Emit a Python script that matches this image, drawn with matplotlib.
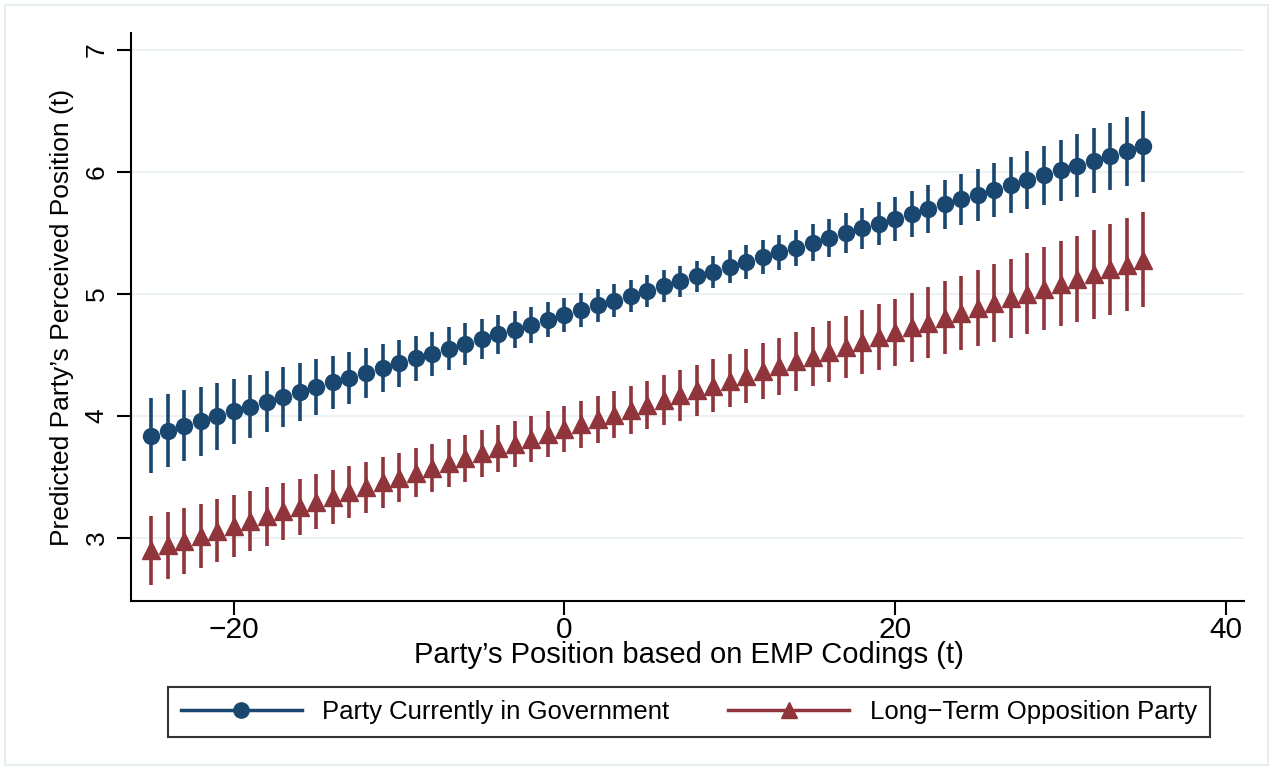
import matplotlib.pyplot as plt
from matplotlib.lines import Line2D
from matplotlib.patches import Rectangle

plt.rcParams['font.family'] = ['Liberation Sans', 'DejaVu Sans']

x = list(range(-25, 36))

gov = [3.840, 3.880, 3.919, 3.959, 3.998, 4.038, 4.077, 4.117, 4.156, 4.196,
       4.235, 4.275, 4.314, 4.354, 4.393, 4.433, 4.472, 4.512, 4.551, 4.591,
       4.630, 4.670, 4.709, 4.749, 4.788, 4.828, 4.867, 4.907, 4.946, 4.986,
       5.025, 5.065, 5.104, 5.144, 5.183, 5.223, 5.262, 5.302, 5.341, 5.381,
       5.420, 5.460, 5.499, 5.539, 5.578, 5.618, 5.657, 5.697, 5.736, 5.776,
       5.815, 5.855, 5.894, 5.934, 5.973, 6.013, 6.052, 6.092, 6.131, 6.171,
       6.210]
gov_ci = [.307, .299, .291, .283, .275, .267, .259, .251, .244, .236,
          .229, .221, .214, .207, .200, .194, .187, .181, .175, .169,
          .163, .158, .153, .148, .144, .141, .138, .135, .133, .131,
          .130, .130, .130, .131, .133, .135, .138, .141, .144, .148,
          .153, .158, .163, .169, .175, .181, .187, .194, .200, .207,
          .214, .221, .229, .236, .244, .251, .259, .267, .275, .283,
          .291]

opp = [2.900, 2.940, 2.979, 3.019, 3.059, 3.099, 3.138, 3.178, 3.218, 3.257,
       3.297, 3.337, 3.376, 3.416, 3.456, 3.496, 3.535, 3.575, 3.615, 3.654,
       3.694, 3.734, 3.773, 3.813, 3.853, 3.893, 3.932, 3.972, 4.012, 4.051,
       4.091, 4.131, 4.170, 4.210, 4.250, 4.290, 4.329, 4.369, 4.409, 4.448,
       4.488, 4.528, 4.567, 4.607, 4.647, 4.687, 4.726, 4.766, 4.806, 4.845,
       4.885, 4.925, 4.964, 5.004, 5.044, 5.084, 5.123, 5.163, 5.203, 5.242,
       5.282]
opp_ci = [.283, .276, .270, .263, .257, .251, .245, .240, .234, .229,
          .224, .219, .215, .211, .207, .204, .200, .198, .195, .193,
          .192, .191, .190, .190, .190, .191, .192, .193, .195, .198,
          .200, .204, .207, .211, .215, .219, .224, .229, .234, .240,
          .245, .251, .257, .263, .270, .276, .283, .290, .297, .304,
          .311, .318, .326, .333, .341, .348, .356, .364, .372, .379,
          .387]

blue = '#1a476f'
red = '#90353b'

fig = plt.figure(figsize=(12.73, 7.70), dpi=100)
fig.patches.append(Rectangle((0.004, 0.006), 0.992, 0.988, transform=fig.transFigure,
                             fill=False, edgecolor='#e6eef1', linewidth=1.5))
ax = fig.add_axes([0.1029, 0.2195, 0.8743, 0.7375])

ax.errorbar(x, gov, yerr=gov_ci, fmt='o', color=blue, ecolor=blue,
            elinewidth=2.6, markersize=11.5, capsize=0, zorder=3)
ax.errorbar(x, opp, yerr=opp_ci, fmt='^', color=red, ecolor=red,
            elinewidth=2.6, markersize=12.5, capsize=0, zorder=3)

ax.set_xlim(-26.21, 41.09)
ax.set_ylim(2.484, 7.139)
ax.set_xticks([-20, 0, 20, 40])
ax.set_xticklabels(['\u221220', '0', '20', '40'])
ax.set_yticks([3, 4, 5, 6, 7])
ax.grid(axis='y', color='#eaf2f3', linewidth=1.5)
ax.set_axisbelow(True)
for s in ['top', 'right']:
    ax.spines[s].set_visible(False)
for s in ['left', 'bottom']:
    ax.spines[s].set_linewidth(1.5)
ax.tick_params(direction='out', length=10, width=1.5, pad=6)
ax.tick_params(axis='x', labelsize=21.5, pad=1)
ax.tick_params(axis='y', labelsize=19)
for lab in ax.get_yticklabels():
    lab.set_rotation(90)
    lab.set_va('center')

ax.set_xlabel('Party\u2019s Position based on EMP Codings (t)', fontsize=21)
ax.xaxis.set_label_coords(0.501, -0.0713)
ax.set_ylabel('Predicted Party\u2019s Perceived Position (t)', fontsize=19, labelpad=8)

handles = [Line2D([], [], color=blue, marker='o', markersize=11, linewidth=2.5),
           Line2D([], [], color=red, marker='^', markersize=12, linewidth=2.5)]
leg = fig.legend(handles, ['Party Currently in Government', 'Long\u2212Term Opposition Party'],
                 loc='center', bbox_to_anchor=(0.5412, 0.0753), ncol=2, fontsize=18.5,
                 frameon=True, fancybox=False, edgecolor='black', handlelength=4.7,
                 columnspacing=2.3, handletextpad=0.8, borderpad=0.5, borderaxespad=0)
leg.get_frame().set_linewidth(1.5)

fig.savefig('out.png', dpi=100, facecolor='white')
